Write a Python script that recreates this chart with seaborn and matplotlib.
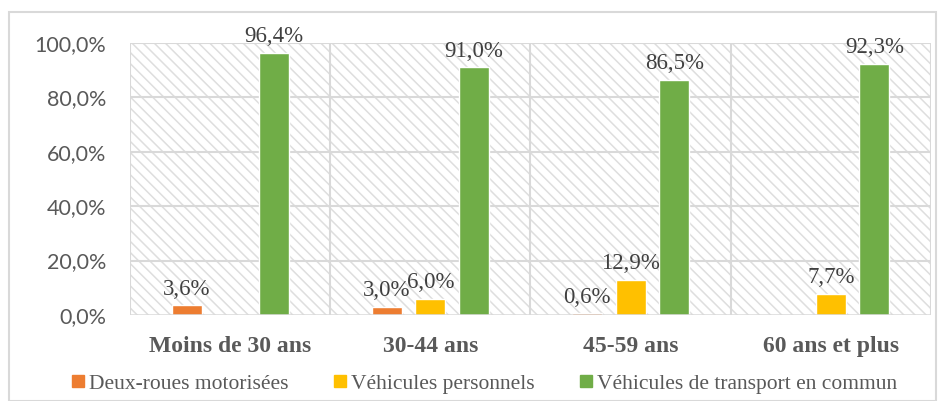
import matplotlib
matplotlib.use("Agg")
import matplotlib.pyplot as plt
from matplotlib.patches import Rectangle
from matplotlib.lines import Line2D
import numpy as np
import pandas as pd
import seaborn as sns

# Share of each transport mode by age group (%)
age_groups = ["Moins de 30 ans", "30-44 ans", "45-59 ans", "60 ans et plus"]
modes = ["Deux-roues motorisées", "Véhicules personnels",
         "Véhicules de transport en commun"]
deux_roues = [3.6, 3.0, 0.6, np.nan]
vehicules_perso = [np.nan, 6.0, 12.9, 7.7]
transport_commun = [96.4, 91.0, 86.5, 92.3]
y_ticks = [0, 20, 40, 60, 80, 100]
colors = ["#ED7D31", "#FFC000", "#70AD47"]

df = pd.DataFrame({
    "age": age_groups * 3,
    "mode": sum([[m] * len(age_groups) for m in modes], []),
    "value": deux_roues + vehicules_perso + transport_commun,
})

sns.set_theme(style="white")
plt.rcParams["font.family"] = ["Liberation Serif", "DejaVu Sans"]
plt.rcParams["hatch.color"] = "#dedede"
plt.rcParams["hatch.linewidth"] = 1.1

fig = plt.figure(figsize=(9.38, 4.01), dpi=100)
ax = fig.add_axes([0.1386, 0.2145, 0.8539, 0.6783])

# outer chart frame
fig.patches.append(Rectangle((9 / 938, 0), 927 / 938, 389 / 401,
                             transform=fig.transFigure, fill=False,
                             edgecolor="#d9d9d9", linewidth=1.5, zorder=0))

sns.barplot(data=df, x="age", y="value", hue="mode", hue_order=modes,
            palette=colors, width=0.6525, gap=0.31, ax=ax,
            saturation=1, legend=False, zorder=3)

ax.set_xlim(-0.5, len(age_groups) - 0.5)
ax.set_ylim(0, 100)

# hatched plot background
ax.add_patch(Rectangle((0, 0), 1, 1, transform=ax.transAxes,
                       facecolor="white", edgecolor="#dedede",
                       hatch="\\\\\\", linewidth=0, zorder=0))

# grid lines
for y in y_ticks[1:]:
    ax.axhline(y, color="#d9d9d9", linewidth=1.5, zorder=1)
for x in np.arange(-0.5, len(age_groups), 1.0):
    ax.axvline(x, color="#d9d9d9", linewidth=1.5, zorder=1)
for s in ax.spines.values():
    s.set_visible(False)
ax.axhline(0, color="#d9d9d9", linewidth=1.8, zorder=4)

ax.set_yticks(y_ticks)
ax.set_yticklabels([f"{t:.1f}%".replace(".", ",") for t in y_ticks],
                   family="Lato", fontsize=15.5, color="#595959")
ax.tick_params(axis="y", length=0, pad=17)
ax.tick_params(axis="x", length=0, pad=15)
for lbl in ax.get_xticklabels():
    lbl.set_fontweight("bold")
    lbl.set_fontsize(17)
    lbl.set_color("#595959")
ax.set_xlabel("")
ax.set_ylabel("")

# value labels above bars
for cont in ax.containers:
    for rect in cont:
        h = rect.get_height()
        if np.isnan(h) or h == 0:
            continue
        ax.annotate(f"{h:.1f}%".replace(".", ","),
                    (rect.get_x() + rect.get_width() / 2, h),
                    xytext=(0, 4), textcoords="offset points",
                    ha="center", va="bottom", fontsize=16.5,
                    color="#404040", zorder=5)

handles = [Line2D([0], [0], marker="s", linestyle="", markersize=8,
                  markerfacecolor=c, markeredgecolor=c) for c in colors]
fig.legend(handles, modes, loc="center", bbox_to_anchor=(0.514, 0.043),
           ncol=3, frameon=False, handletextpad=0.0,
           prop={"family": "Liberation Serif", "size": 15.5},
           columnspacing=1.9, labelcolor="#595959", handlelength=1.0)

fig.savefig("out.png", dpi=100)
